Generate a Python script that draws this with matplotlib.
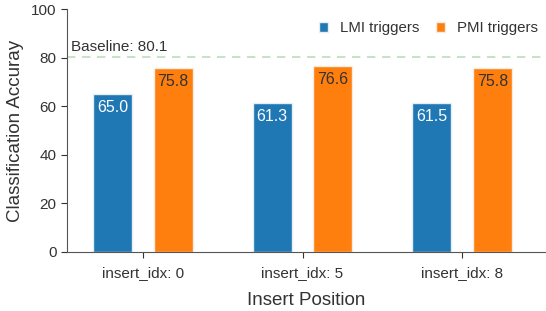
import matplotlib
matplotlib.use("Agg")
import matplotlib.pyplot as plt
import numpy as np

plt.rcParams['font.family'] = ['Liberation Sans', 'DejaVu Sans']

# data
positions = ["insert_idx: 0", "insert_idx: 5", "insert_idx: 8"]
lmi_acc = [65.0, 61.3, 61.5]
pmi_acc = [75.8, 76.6, 75.8]
baseline = 80.1

text_col = "#333333"
x = np.arange(len(positions))
width = 0.245
offset = 0.19

fig = plt.figure(figsize=(5.46, 3.11), dpi=100)
ax = fig.add_axes([0.1227, 0.19, 0.8773, 0.781])

b1 = ax.bar(x - offset, lmi_acc, width, color="#1f77b4", edgecolor="#e6edf5",
            linewidth=1.0, label="LMI triggers", zorder=2)
b2 = ax.bar(x + offset, pmi_acc, width, color="#ff7f0e", edgecolor="#f5ece4",
            linewidth=1.0, label="PMI triggers", zorder=2)

# value labels inside the bar tops
for rect, v in zip(b1, lmi_acc):
    ax.text(rect.get_x() + rect.get_width() / 2, v - 2.6, f"{v:.1f}",
            ha="center", va="top", color="white", fontsize=11.5)
for rect, v in zip(b2, pmi_acc):
    ax.text(rect.get_x() + rect.get_width() / 2, v - 2.6, f"{v:.1f}",
            ha="center", va="top", color=text_col, fontsize=11.5)

ax.axhline(baseline, color="#a8d5a8", linestyle=(0, (5, 4)), linewidth=1.2,
           alpha=0.8, zorder=1)
ax.text(-0.45, baseline + 1.2, f"Baseline: {baseline}", color=text_col,
        fontsize=11, ha="left", va="bottom")

ax.set_xlim(-0.475, 2.525)
ax.set_ylim(0, 100)
ax.set_xticks(x)
ax.set_xticklabels(positions)
ax.set_yticks([0, 20, 40, 60, 80, 100])
ax.tick_params(colors=text_col, labelsize=11, length=4, labelcolor=text_col)
ax.tick_params(axis="x", pad=6)
ax.set_xlabel("Insert Position", fontsize=13.5, color=text_col, labelpad=9)
ax.set_ylabel("Classification Accuray", fontsize=13.5, color=text_col, labelpad=5)

for s in ["top", "right"]:
    ax.spines[s].set_visible(False)
for s in ["left", "bottom"]:
    ax.spines[s].set_color("#555555")

ax.legend(loc="upper right", frameon=False, fontsize=10.8, handlelength=0.62,
          handleheight=0.62, handletextpad=0.8, columnspacing=1.05, ncol=2,
          labelcolor=text_col, borderpad=0, borderaxespad=0,
          bbox_to_anchor=(0.985, 1 - 21 / 311), bbox_transform=fig.transFigure)

fig.savefig("out.png", dpi=100)
